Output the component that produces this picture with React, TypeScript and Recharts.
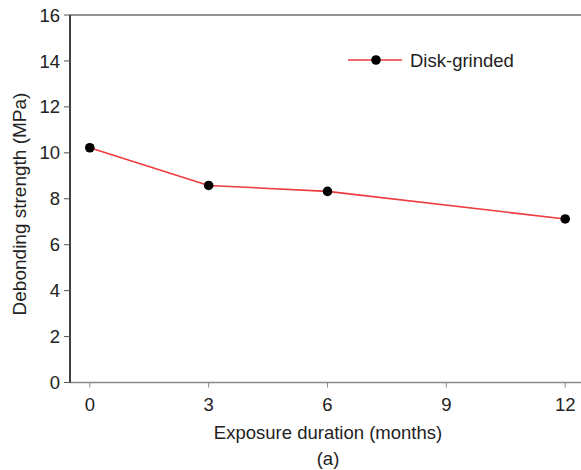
import React from "react";
import {
  LineChart,
  Line,
  XAxis,
  YAxis,
  ReferenceLine,
} from "recharts";

// Exposure duration (months) and debonding strength (MPa)
const months = [0, 3, 6, 12];
const strength = [10.22, 8.58, 8.32, 7.12];
const xTicks = [0, 3, 6, 9, 12];
const yTicks = [0, 2, 4, 6, 8, 10, 12, 14, 16];
const seriesName = "Disk-grinded";

const data = months.map((m, i) => ({ month: m, value: strength[i] }));

const FONT = "'Liberation Sans', Arial, sans-serif";
const FS = 18.5;
const RED = "#ee3b3f";

const XLabel = (props: any) => {
  const vb = props.viewBox || {};
  const cx = 328;
  return (
    <g fontFamily={FONT} fill="#222">
      <text x={cx} y={vb.y + 56} textAnchor="middle" fontSize={FS}>
        Exposure duration (months)
      </text>
      <text x={cx} y={vb.y + 82.5} textAnchor="middle" fontSize={FS}>
        (a)
      </text>
    </g>
  );
};

const YLabel = () => {
  const cx = 26;
  const cy = 204;
  return (
    <text
      x={cx}
      y={cy}
      transform={`rotate(-90 ${cx} ${cy})`}
      textAnchor="middle"
      fontSize={19}
      fontFamily={FONT}
      fill="#222"
    >
      Debonding strength (MPa)
    </text>
  );
};

// Legend key: red line with a black dot, followed by the series name
const LegendBox = () => (
  <div style={{ position: "absolute", left: 345, top: 48, width: 200, height: 24 }}>
    <svg width={200} height={24} style={{ overflow: "visible", display: "block" }}>
      <line x1={3} y1={12} x2={57} y2={12} stroke={RED} strokeWidth={1.6} />
      <circle cx={31} cy={12} r={4.8} fill="#000" />
      <text x={65} y={18.5} fontSize={FS} fontFamily={FONT} fill="#222">
        {seriesName}
      </text>
    </svg>
  </div>
);

export default function App() {
  return (
    <>
      <style>{`html, body { margin: 0; padding: 0; overflow: hidden; }`}</style>
      <div style={{ width: 581, height: 470, overflow: "hidden", background: "#fff", position: "relative" }}>
        <LineChart
          width={600}
          height={470}
          data={data}
          margin={{ top: 15, right: 15, bottom: 0, left: 0 }}
        >
          <ReferenceLine y={16} stroke="#6e6e6e" strokeWidth={1.6} />
          <XAxis
            dataKey="month"
            type="number"
            domain={[-0.5, 12.5]}
            ticks={xTicks}
            height={87.5}
            axisLine={{ stroke: "#8a8a8a", strokeWidth: 1.6 }}
            tickLine={{ stroke: "#8a8a8a", strokeWidth: 1 }}
            tickSize={5}
            tickMargin={10}
            tick={{ fontSize: FS, fontFamily: FONT, fill: "#222" }}
            label={<XLabel />}
          />
          <YAxis
            type="number"
            domain={[0, 16]}
            ticks={yTicks}
            width={70}
            axisLine={{ stroke: "#111", strokeWidth: 1.6 }}
            tickLine={{ stroke: "#555", strokeWidth: 1 }}
            tickSize={6}
            tickMargin={4}
            tick={{ fontSize: FS, fontFamily: FONT, fill: "#222" }}
            label={<YLabel />}
          />
          <Line
            dataKey="value"
            name={seriesName}
            stroke={RED}
            strokeWidth={1.6}
            dot={{ r: 4.8, fill: "#000", stroke: "#000", strokeWidth: 0 }}
            isAnimationActive={false}
          />
        </LineChart>
        <LegendBox />
      </div>
    </>
  );
}
